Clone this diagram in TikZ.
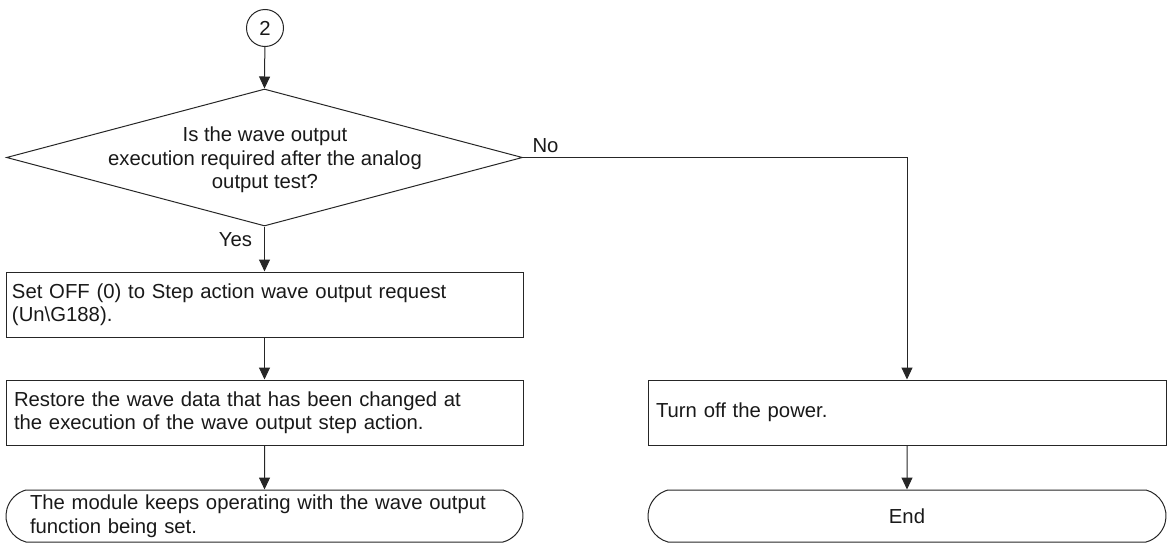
\documentclass[tikz,border=0pt]{standalone}
\usepackage{fontspec}
\setmainfont{Liberation Sans}
\usetikzlibrary{shapes.geometric,shapes.misc,arrows.meta}
\begin{document}
\begin{tikzpicture}[x=1pt,y=-1pt,
  every node/.style={font=\fontsize{20.3}{23.5}\selectfont, text=black!90},
  ln/.style={draw=black!85, line width=1pt},
  arr/.style={ln, -{Triangle[length=12pt,width=11pt]}},
  procbox/.style={ln, rectangle, minimum width=517pt, minimum height=65pt, text width=505pt, align=left, inner xsep=6pt, inner ysep=0pt},
  termbox/.style={ln, rounded rectangle, rounded rectangle arc length=150, minimum width=517pt, minimum height=52pt, inner xsep=0pt, inner ysep=0pt},
  decbox/.style={ln, diamond, minimum width=516pt, minimum height=137pt, inner sep=0pt},
  conn/.style={ln, circle, minimum size=37pt, inner sep=0pt},
  lbl/.style={inner sep=0pt}]
\useasboundingbox (0,0) rectangle (1169,546);

\node[conn] (c2) at (265,28) {2};
\node[decbox] (dec) at (264.5,157.5) {};
\node[align=center, inner sep=0pt] (dtext) at (265,160) {Is the wave output\\execution required after the analog\\output test?};
\node[procbox] (box1) at (264.5,304.5) {Set OFF (0) to Step action wave output request\\(Un\textbackslash G188).};
\node[procbox, text width=501pt, inner xsep=8pt] (box2) at (264.5,412.5) {Restore the wave data that has been changed at\\the execution of the wave output step action.};
\node[termbox, text width=469pt, align=left] (term1) at (264.5,516) {The module keeps operating with the wave output\\function being set.};
\node[procbox, minimum width=518pt, text width=502pt, inner xsep=8pt] (box3) at (907,412.5) {Turn off the power.};
\node[termbox, minimum width=518pt] (term2) at (907,516) {End};

\draw[arr] (c2) -- (dec.north);
\draw[arr] (dec.south) -- node[lbl, pos=0.3, anchor=east, xshift=-12pt] {Yes} (box1.north);
\draw[arr] (box1) -- (box2);
\draw[arr] (box2) -- (term1);
\draw[arr] (dec.east) -| node[lbl, pos=0, anchor=south west, xshift=9pt, yshift=4pt] {No} (box3.north);
\draw[arr] (box3) -- (term2);
\end{tikzpicture}
\end{document}
